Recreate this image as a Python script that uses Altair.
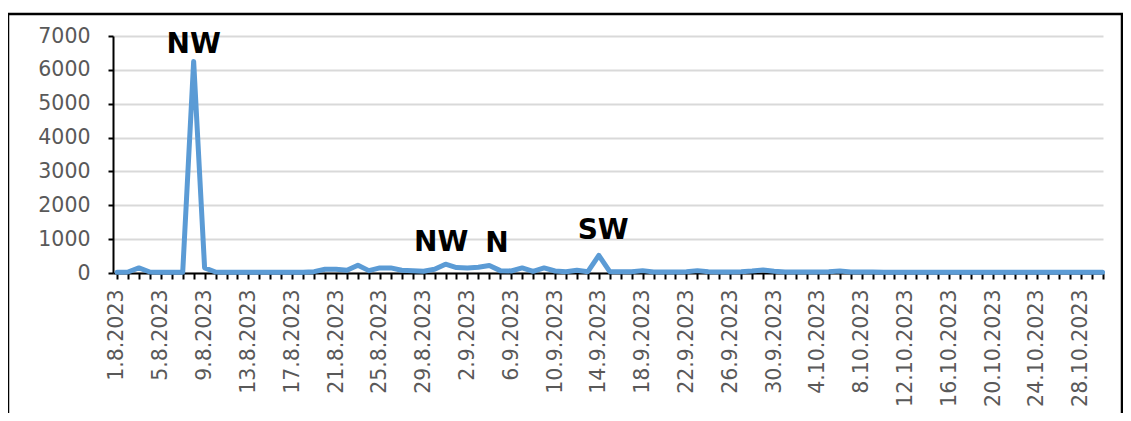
import altair as alt
import pandas as pd

# Daily categories 1.8.2023 .. 30.10.2023
dates = [f"{d.day}.{d.month}.{d.year}" for d in pd.date_range("2023-08-01", "2023-10-30", freq="D")]

values = [20, 30, 150, 30, 20, 20, 20, 6250, 150, 30,
          20, 20, 20, 20, 20, 20, 20, 20, 40, 110,
          110, 80, 230, 70, 150, 150, 80, 70, 50, 110,
          260, 160, 150, 170, 220, 70, 60, 150, 50, 150,
          60, 40, 80, 40, 520, 40, 40, 40, 70, 30,
          30, 30, 40, 70, 40, 30, 30, 40, 60, 90,
          50, 30, 30, 30, 30, 40, 60, 30, 30, 30,
          20, 20, 20, 20, 20, 20, 20, 20, 20, 20,
          20, 20, 20, 20, 20, 20, 20, 20, 20, 20,
          20]

y_ticks = [0, 1000, 2000, 3000, 4000, 5000, 6000, 7000]

ann_text = ["NW", "NW", "N", "SW"]
ann_idx = [7.0, 29.6, 34.7, 44.4]
ann_val = [6730, 890, 860, 1240]

label_every = 4

df = pd.DataFrame({"idx": list(range(len(dates))), "date": dates, "value": values})
ann = pd.DataFrame({"idx": ann_idx, "value": ann_val, "text": ann_text})

labels_js = "[" + ",".join(f"'{d}'" for d in dates) + "]"
label_expr = f"datum.value % {label_every} == 0 ? {labels_js}[datum.value] : ''"

xscale = alt.Scale(domain=[-0.365, 90.04], nice=False, zero=False)
yscale = alt.Scale(domain=[0, 7000], nice=False)

x_axis = alt.Axis(
    values=list(range(len(dates))),
    labelExpr=label_expr,
    labelAngle=-90, labelAlign="right", labelBaseline="middle",
    labelOverlap=False, labelFlush=False,
    labelFont="DejaVu Sans", labelFontSize=20.5, labelColor="#595959",
    labelPadding=10,
    tickColor="#000000", tickWidth=2, tickSize=6,
    domainColor="#000000", domainWidth=2,
    grid=False, title=None,
)
y_axis = alt.Axis(
    values=y_ticks, format="d",
    labelOverlap=False, labelFlush=False,
    labelFont="DejaVu Sans", labelFontSize=20.5, labelColor="#595959",
    labelPadding=18,
    tickColor="#000000", tickWidth=2, tickSize=5,
    domainColor="#000000", domainWidth=2,
    grid=True, gridColor="#d9d9d9", gridWidth=2,
    title=None,
)

line = alt.Chart(df).mark_line(
    color="#5b9bd5", strokeWidth=5, strokeJoin="round", strokeCap="round"
).encode(
    x=alt.X("idx:Q", scale=xscale, axis=x_axis),
    y=alt.Y("value:Q", scale=yscale, axis=y_axis),
)

text = alt.Chart(ann).mark_text(
    font="DejaVu Sans", fontSize=28, fontWeight="bold", color="#000000",
    align="center", baseline="middle",
).encode(
    x=alt.X("idx:Q", scale=xscale, axis=x_axis),
    y=alt.Y("value:Q", scale=yscale, axis=y_axis),
    text="text:N",
)

frame = alt.Chart(pd.DataFrame({"k": [0]})).mark_rect(
    fill=None, stroke="#000000", strokeWidth=2.5, clip=False
).encode(
    x=alt.value(-105), x2=alt.value(1009),
    y=alt.value(-22), y2=alt.value(420),
)

chart = alt.layer(line, text, frame).properties(
    width=990, height=237,
    padding={"left": 105, "top": 28, "right": 20, "bottom": 140},
    autosize="none",
    background="white",
).configure_view(stroke=None)

chart.save("out.html", embed_options={"renderer": "svg", "actions": False})
